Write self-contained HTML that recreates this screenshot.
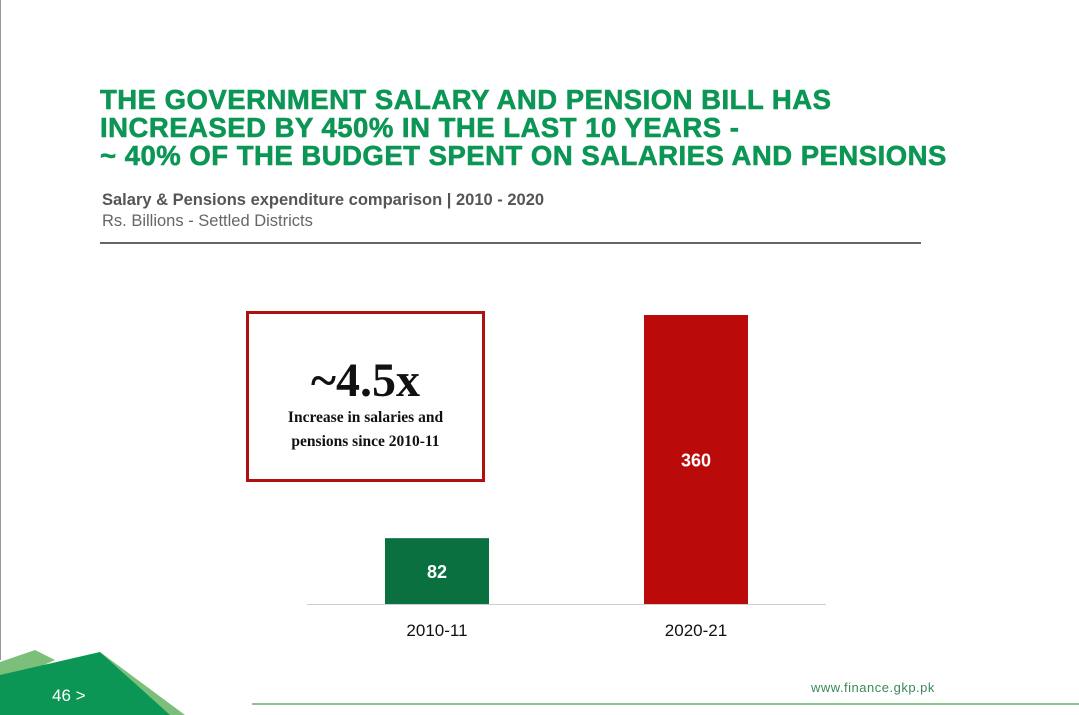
<!DOCTYPE html>
<html><head><meta charset="utf-8"><style>
body{margin:0;width:1079px;height:715px;background:#fff;position:relative;overflow:hidden;font-family:"Liberation Sans",sans-serif}
.t{position:absolute;left:100px;top:86px;color:#0c9655;font-weight:900;font-size:27.5px;line-height:28px;letter-spacing:0.5px;-webkit-text-stroke:0.6px #0c9655;white-space:nowrap}
</style></head><body>
<div style="position:absolute;left:0;top:0;width:1px;height:660px;background:#999"></div>
<div class="t">THE GOVERNMENT SALARY AND PENSION BILL HAS<br>INCREASED BY 450% IN THE LAST 10 YEARS -<br>~ 40% OF THE BUDGET SPENT ON SALARIES AND PENSIONS</div>
<div style="position:absolute;left:102px;top:191px;font-size:16.5px;font-weight:bold;color:#555">Salary &amp; Pensions expenditure comparison | 2010 - 2020</div>
<div style="position:absolute;left:102px;top:212px;font-size:16.5px;color:#666">Rs. Billions - Settled Districts</div>
<div style="position:absolute;left:100px;top:242px;width:821px;height:2px;background:#666"></div>
<div style="position:absolute;left:246px;top:311px;width:233px;height:165px;border:3px solid #b01010;text-align:center;font-family:'Liberation Serif',serif;color:#111">
<div style="font-size:48px;font-weight:bold;margin-top:42px;line-height:50px">~4.5x</div>
<div style="font-size:15.5px;font-weight:bold;line-height:24px;margin-top:0px">Increase in salaries and<br>pensions since 2010-11</div></div>
<svg id="c" width="1079" height="715" style="position:absolute;left:0;top:0"></svg>
<svg width="1079" height="715" style="position:absolute;left:0;top:0">
<polygon points="0,662 35,650 55,660 0,685" fill="#7cbf7a"/>
<polygon points="100,652 185,715 160,715" fill="#7cbf7a"/>
<polygon points="0,675 100,652 170,715 0,715" fill="#0c9655"/>
<rect x="252" y="703" width="827" height="2" fill="#8cc48a"/>
</svg>
<div style="position:absolute;left:52px;top:686px;color:#fff;font-size:17px">46 &gt;</div>
<div style="position:absolute;left:811px;top:680px;color:#3a8a5a;font-size:13px;letter-spacing:0.5px">www.finance.gkp.pk</div>
<script>
const categories=["2010-11","2020-21"];
const values=[82,360];
const colors=["#0a7040","#bb0a0a"];
const svg=document.getElementById('c');const NS='http://www.w3.org/2000/svg';
const base=604,scale=289/360;
const y=v=>base-v*scale;const x=i=>385+i*259;
const ax=document.createElementNS(NS,'line');


ax.setAttribute('x1',307);ax.setAttribute('x2',826);ax.setAttribute('y1',base+0.5);ax.setAttribute('y2',base+0.5);ax.setAttribute('stroke','#ccc');svg.appendChild(ax);
values.forEach((v,i)=>{
const r=document.createElementNS(NS,'rect');


r.setAttribute('x',x(i));r.setAttribute('width',104);r.setAttribute('y',y(v));r.setAttribute('height',v*scale);r.setAttribute('fill',colors[i]);svg.appendChild(r);
const t=document.createElementNS(NS,'text');


t.setAttribute('x',x(i)+52);t.setAttribute('y',(y(v)+base)/2+7);t.setAttribute('text-anchor','middle');t.setAttribute('fill','#fff');t.setAttribute('font-weight','bold');t.setAttribute('font-size','18');t.setAttribute('font-family','Liberation Sans');t.textContent=v;svg.appendChild(t);
const c=document.createElementNS(NS,'text');


c.setAttribute('x',x(i)+52);c.setAttribute('y',636);c.setAttribute('text-anchor','middle');c.setAttribute('fill','#111');c.setAttribute('font-size','17');c.setAttribute('font-family','Liberation Sans');c.textContent=categories[i];svg.appendChild(c);
});
</script>
</body></html>
